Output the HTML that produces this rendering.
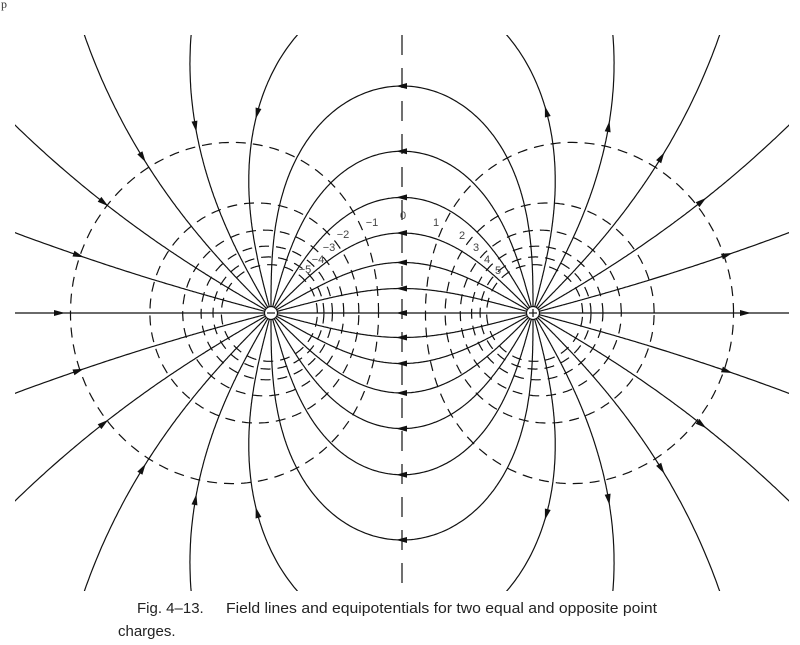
<!DOCTYPE html>
<html><head><meta charset="utf-8"><style>
html,body{margin:0;padding:0;background:#fff;width:800px;height:645px;overflow:hidden;}
svg{display:block;}
</style></head><body>
<svg id="s" width="800" height="645" xmlns="http://www.w3.org/2000/svg">
<defs><clipPath id="c"><rect x="15" y="35" width="774" height="556"/></clipPath></defs>
<text x="1" y="8" font-family="Liberation Serif, serif" font-size="12" fill="#333">p</text>
<g id="eq" clip-path="url(#c)" fill="none" stroke="#111" stroke-width="1.2" stroke-dasharray="10 7"></g>
<line x1="402" y1="35" x2="402" y2="591" stroke="#111" stroke-width="1.2" stroke-dasharray="20 13"/>
<g id="fl" clip-path="url(#c)" fill="none" stroke="#111" stroke-width="1.2"></g>
<line x1="15" y1="313" x2="789" y2="313" stroke="#111" stroke-width="1.2"/>
<g id="ar" clip-path="url(#c)" fill="#111" stroke="none"></g>
<g font-family="Liberation Sans, sans-serif" font-size="11" fill="#444" text-anchor="middle">
<text x="403" y="219">0</text>
<text x="372" y="226">−1</text>
<text x="343" y="238">−2</text>
<text x="329" y="251">−3</text>
<text x="318" y="263">−4</text>
<text x="305" y="273">−5</text>
<text x="436" y="226">1</text>
<text x="462" y="239">2</text>
<text x="476" y="251">3</text>
<text x="487" y="263">4</text>
<text x="498" y="274">5</text>
</g>
<circle cx="271" cy="313" r="6.5" fill="#fff" stroke="#111" stroke-width="1.2"/>
<line x1="267" y1="313" x2="275" y2="313" stroke="#111" stroke-width="1.2"/>
<circle cx="533" cy="313" r="6.5" fill="#fff" stroke="#111" stroke-width="1.2"/>
<line x1="529" y1="313" x2="537" y2="313" stroke="#111" stroke-width="1.2"/>
<line x1="533" y1="309" x2="533" y2="317" stroke="#111" stroke-width="1.2"/>
<g font-family="Liberation Sans, Arial, sans-serif" font-size="15" fill="#222">
<text x="137" y="613">Fig. 4–13.</text>
<text x="226" y="613" textLength="431" lengthAdjust="spacingAndGlyphs">Field lines and equipotentials for two equal and opposite point</text>
<text x="118" y="636">charges.</text>
</g>
</svg>
<script>
(function(){
var A=131,CX=402,CY=313,NS="http://www.w3.org/2000/svg";
function px(x){return CX+A*x;} function py(y){return CY-A*y;}
function E(x,y){var dx1=x-1,dx2=x+1,r1=Math.hypot(dx1,y),r2=Math.hypot(dx2,y);
 var c1=1/(r1*r1*r1),c2=1/(r2*r2*r2);return [dx1*c1-dx2*c2,y*c1-y*c2,r1,r2];}
function V(x,y){return 1/Math.hypot(x-1,y)-1/Math.hypot(x+1,y);}
var fl=document.getElementById('fl'),ar=document.getElementById('ar'),eq=document.getElementById('eq');
function path(g,d){var p=document.createElementNS(NS,'path');p.setAttribute('d',d);g.appendChild(p);}
function arrow(X,Y,ang){var c=Math.cos(ang),s=Math.sin(ang);
 var pts=[[6,0],[-5,3],[-5,-3]].map(function(q){return (X+q[0]*c-q[1]*s).toFixed(1)+','+(Y+q[0]*s+q[1]*c).toFixed(1);}).join(' ');
 var p=document.createElementNS(NS,'polygon');p.setAttribute('points',pts);ar.appendChild(p);}
function inFrame(X,Y){return X>=15&&X<=789&&Y>=35&&Y<=591;}
var Rr=200/A;
for(var k=1;k<=11;k++){for(var sg=-1;sg<=1;sg+=2){
 var th=k*15*Math.PI/180,x=1+0.05*Math.cos(th),y=sg*0.05*Math.sin(th);
 var pts=[[x,y]];
 for(var i=0;i<80000;i++){
  var e=E(x,y),n=Math.hypot(e[0],e[1]);
  var ds=Math.min(0.4,0.003+0.01*Math.min(e[2],e[3]));
  var mx=x+0.5*ds*e[0]/n,my=y+0.5*ds*e[1]/n;
  var e2=E(mx,my),n2=Math.hypot(e2[0],e2[1]);
  x+=ds*e2[0]/n2;y+=ds*e2[1]/n2;
  pts.push([x,y]);
  if(Math.hypot(x+1,y)<0.04){pts.push([-1,0]);break;}
 }
 var d='',pen=false;
 for(var j=0;j<pts.length;j++){var X=px(pts[j][0]),Y=py(pts[j][1]);
  if(X<-300||X>1100||Y<-300||Y>950){pen=false;continue;}
  d+=(pen?'L':'M')+X.toFixed(1)+' '+Y.toFixed(1);pen=true;}
 path(fl,d);
 var crossed=false;
 for(var j=1;j<pts.length;j++){
  if(pts[j-1][0]>0&&pts[j][0]<=0){var X=px(0),Y=py(pts[j][1]);
   if(inFrame(X,Y)){crossed=true;arrow(X,Y,Math.atan2(-(pts[j][1]-pts[j-1][1]),pts[j][0]-pts[j-1][0]));}break;}}
 if(!crossed){
  for(var j=1;j<pts.length;j++){var r1=Math.hypot(pts[j][0]-1,pts[j][1]);
   if(r1>=Rr){arrow(px(pts[j][0]),py(pts[j][1]),Math.atan2(-(pts[j][1]-pts[j-1][1]),pts[j][0]-pts[j-1][0]));break;}}
  for(var j=pts.length-2;j>0;j--){var r2=Math.hypot(pts[j][0]+1,pts[j][1]);
   if(r2>=Rr){arrow(px(pts[j][0]),py(pts[j][1]),Math.atan2(-(pts[j+1][1]-pts[j][1]),pts[j+1][0]-pts[j][0]));break;}}
 }
}}
arrow(59,313,0);arrow(745,313,0);arrow(402,313,Math.PI);
for(var k=1;k<=6;k++){for(var s=-1;s<=1;s+=2){
 var L=0.37*k,cx=s;var d='';
 for(var a=0;a<=360;a+=1){var ph=a*Math.PI/180,c=Math.cos(ph),sn=Math.sin(ph);
  var f=function(r){return s*V(cx+r*c,r*sn)-L;};
  var r=0.01,dr=0.004;while(f(r)>0&&r<12){r+=dr;dr=Math.min(0.05,dr*1.02);}
  var lo=Math.max(0.005,r-dr),hi=r;
  for(var t=0;t<30;t++){var m=(lo+hi)/2;if(f(m)>0)lo=m;else hi=m;}
  var X=px(cx+hi*c),Y=py(hi*sn);d+=(a?'L':'M')+X.toFixed(1)+' '+Y.toFixed(1);}
 path(eq,d+'Z');
}}
})();
</script>
</body></html>
